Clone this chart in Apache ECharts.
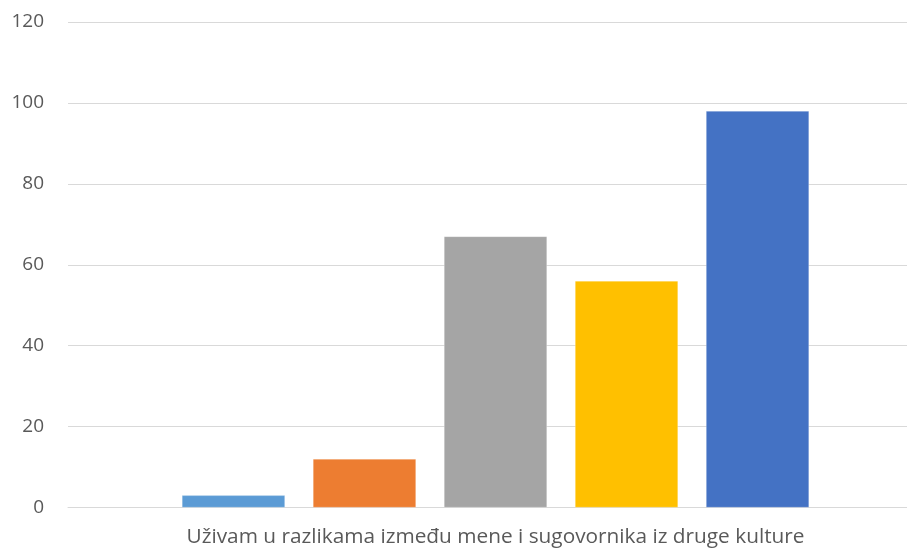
<!DOCTYPE html>
<html>
<head>
<meta charset="utf-8">
<script src="https://cdn.jsdelivr.net/npm/echarts@6/dist/echarts.min.js"></script>
<style>
html,body{margin:0;padding:0;background:#fff;}
#chart{width:907px;height:548px;}
</style>
</head>
<body>
<div id="chart"></div>
<script>
var categories = ['Uživam u razlikama između mene i sugovornika iz druge kulture'];
var seriesNames = ['1', '2', '3', '4', '5'];
var seriesValues = [3, 12, 67, 56, 98];
var seriesColors = ['#5B9BD5', '#ED7D31', '#A5A5A5', '#FFC000', '#4472C4'];
var yTicks = [0, 20, 40, 60, 80, 100, 120];

var chart = echarts.init(document.getElementById('chart'), null, {renderer: 'canvas'});
var series = seriesNames.map(function (name, i) {
  return {
    name: name,
    type: 'bar',
    data: [seriesValues[i]],
    barWidth: 103,
    barGap: '27.2%',
    itemStyle: {color: seriesColors[i], borderColor: 'rgba(255,255,255,0.5)', borderWidth: 0.5},
    animation: false
  };
});
chart.setOption({
  backgroundColor: '#ffffff',
  animation: false,
  textStyle: {fontFamily: 'Open Sans'},
  grid: {left: 68, width: 855, top: 22, bottom: 40.5, containLabel: false, outerBoundsMode: 'none'},
  xAxis: {
    type: 'category',
    data: categories,
    axisLine: {show: true, lineStyle: {color: '#D9D9D9', width: 1}},
    axisTick: {show: false},
    axisLabel: {color: '#595959', fontSize: 20.8, fontFamily: 'Open Sans', margin: 19}
  },
  yAxis: {
    type: 'value',
    min: yTicks[0],
    max: yTicks[yTicks.length - 1],
    interval: yTicks[1] - yTicks[0],
    axisLine: {show: false},
    axisTick: {show: false},
    splitLine: {lineStyle: {color: '#D9D9D9', width: 1}},
    axisLabel: {color: '#595959', fontSize: 19, fontFamily: 'Open Sans', margin: 24}
  },
  series: series
});
</script>
</body>
</html>
